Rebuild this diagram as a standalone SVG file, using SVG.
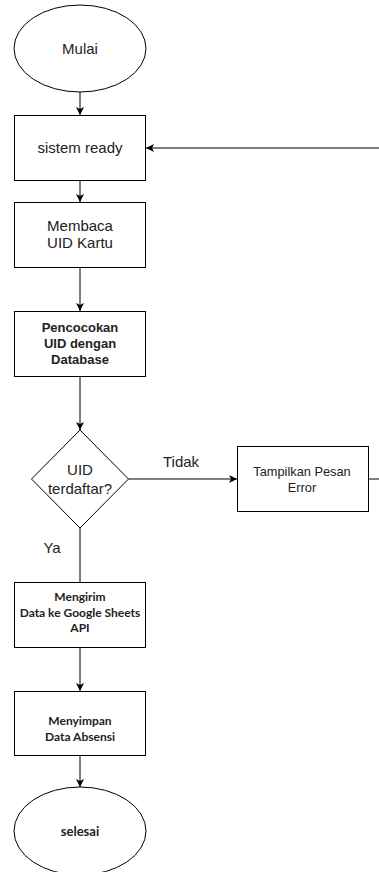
<svg xmlns="http://www.w3.org/2000/svg" width="379" height="872" viewBox="0 0 379 872">
<style>
.shape{fill:#fff;stroke:#000;stroke-width:1}
.t{font-family:"Liberation Sans",Arial,sans-serif;font-size:15px;fill:#222;text-anchor:middle}
.tb{font-family:"Liberation Sans",Arial,sans-serif;font-size:13px;font-weight:bold;fill:#222;text-anchor:middle}
.ts{font-family:"Liberation Sans",Arial,sans-serif;font-size:12.8px;fill:#222;text-anchor:middle}
.tc{font-family:Lato,"Open Sans",sans-serif;font-size:12px;font-weight:bold;fill:#222;text-anchor:middle}
.c{fill:none;stroke:#000;stroke-width:1}
</style>
<defs>
<marker id="ah" viewBox="0 0 10 10" refX="10" refY="5" markerWidth="8" markerHeight="8" markerUnits="userSpaceOnUse" orient="auto">
<path d="M0,0 L10,5 L0,10 L2.5,5 Z" fill="#000"/>
</marker>
</defs>
<rect width="379" height="872" fill="#fff"/>
<g id="connectors">
<line class="c" x1="80" y1="92" x2="80" y2="115" marker-end="url(#ah)"/>
<line class="c" x1="80" y1="180" x2="80" y2="202" marker-end="url(#ah)"/>
<line class="c" x1="80" y1="267" x2="80" y2="311" marker-end="url(#ah)"/>
<line class="c" x1="80" y1="376" x2="80" y2="430" marker-end="url(#ah)"/>
<line class="c" x1="128.5" y1="479" x2="237" y2="479" marker-end="url(#ah)"/>
<path class="c" d="M368,479 H386 V148 H146" marker-end="url(#ah)"/>
<line class="c" x1="80" y1="528" x2="80" y2="582" stroke="#555"/>
<line class="c" x1="80" y1="647" x2="80" y2="691" marker-end="url(#ah)"/>
<line class="c" x1="80" y1="755" x2="80" y2="787" marker-end="url(#ah)"/>
<text class="t" x="181" y="467">Tidak</text>
<text class="t" x="52" y="553">Ya</text>
</g>
<g id="mulai">
<ellipse class="shape" cx="80" cy="48.5" rx="66" ry="43.5"/>
<text class="t" x="80" y="54">Mulai</text>
</g>
<g id="sistem-ready">
<rect class="shape" x="14.5" y="115.5" width="131" height="65"/>
<text class="t" x="80" y="153">sistem ready</text>
</g>
<g id="membaca">
<rect class="shape" x="14.5" y="202.5" width="131" height="65"/>
<text class="t" x="80" y="231">Membaca</text>
<text class="t" x="80" y="248">UID Kartu</text>
</g>
<g id="pencocokan">
<rect class="shape" x="14.5" y="311.5" width="131" height="65"/>
<text class="tb" x="80" y="331.5">Pencocokan</text>
<text class="tb" x="80" y="347.5">UID dengan</text>
<text class="tb" x="80" y="363.5">Database</text>
</g>
<g id="decision">
<polygon class="shape" points="80,430 128.5,479 80,528 31.5,479"/>
<text class="t" x="80" y="475">UID</text>
<text class="t" x="80" y="494">terdaftar?</text>
</g>
<g id="error">
<rect class="shape" x="237.5" y="446.5" width="131" height="65"/>
<text class="ts" x="302" y="475.5">Tampilkan Pesan</text>
<text class="ts" x="302" y="491.5">Error</text>
</g>
<g id="mengirim">
<rect class="shape" x="14.5" y="582.5" width="131" height="65"/>
<text class="tc" x="80" y="601">Mengirim</text>
<text class="tc" x="80" y="616.5">Data ke Google Sheets</text>
<text class="tc" x="80" y="632">API</text>
</g>
<g id="menyimpan">
<rect class="shape" x="14.5" y="691.5" width="131" height="64"/>
<text class="tc" x="80" y="725">Menyimpan</text>
<text class="tc" x="80" y="741">Data Absensi</text>
</g>
<g id="selesai">
<ellipse class="shape" cx="80" cy="831" rx="66" ry="44"/>
<text class="tc" x="80" y="835.5" style="font-size:13px">selesai</text>
</g>
</svg>
